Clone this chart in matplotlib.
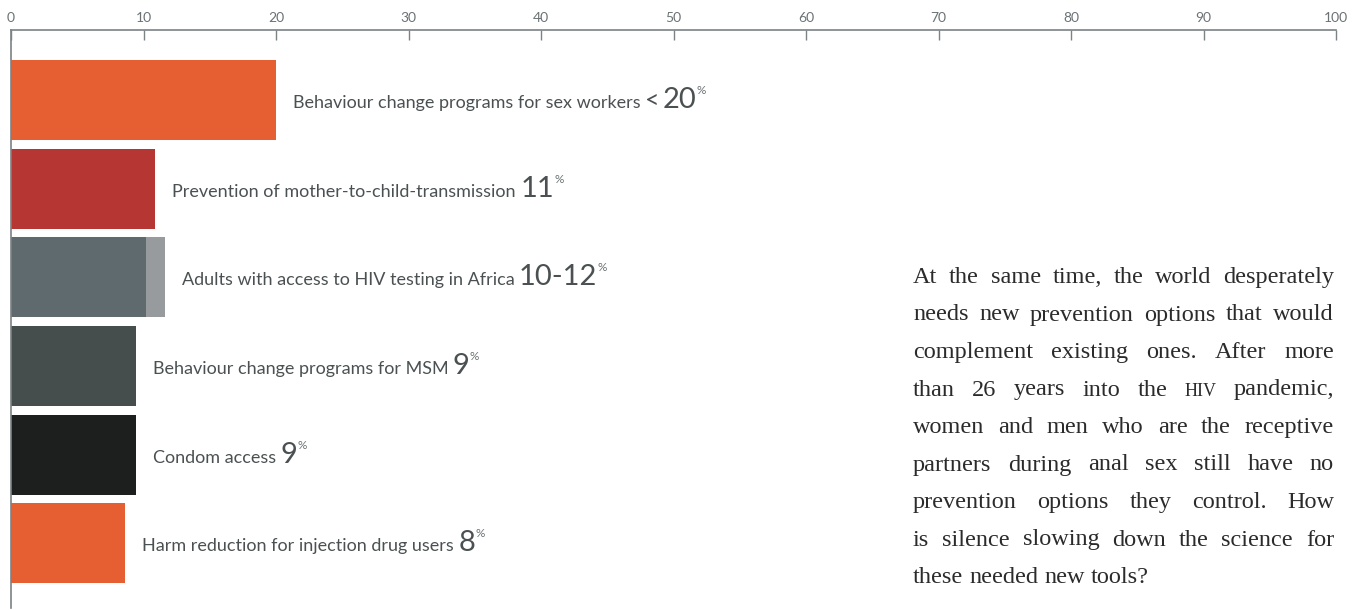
import matplotlib
matplotlib.use('Agg')
import matplotlib.pyplot as plt

# data
labels = ['Behaviour change programs for sex workers',
          'Prevention of mother-to-child-transmission',
          'Adults with access to HIV testing in Africa',
          'Behaviour change programs for MSM',
          'Condom access',
          'Harm reduction for injection drug users']
values = [20, 10.9, 10.2, 9.4, 9.4, 8.6]
upper = [None, None, 11.6, None, None, None]   # range end (light part)
numbers = ['20', '11', '10-12', '9', '9', '8']
prefix = ['<', '', '', '', '', '']
colors = ['#E55F32', '#B53632', '#5E6A6E', '#454E4C', '#1D1F1E', '#E55F32']
range_color = '#989B9D'
ticks = [0, 10, 20, 30, 40, 50, 60, 70, 80, 90, 100]

para_lines = [
    ['At', 'the', 'same', 'time,', 'the', 'world', 'desperately'],
    ['needs', 'new', 'prevention', 'options', 'that', 'would'],
    ['complement', 'existing', 'ones.', 'After', 'more'],
    ['than', '26', 'years', 'into', 'the', 'HIV', 'pandemic,'],
    ['women', 'and', 'men', 'who', 'are', 'the', 'receptive'],
    ['partners', 'during', 'anal', 'sex', 'still', 'have', 'no'],
    ['prevention', 'options', 'they', 'control.', 'How'],
    ['is', 'silence', 'slowing', 'down', 'the', 'science', 'for'],
    ['these', 'needed', 'new', 'tools?'],
]

W, H = 1357, 610
fig = plt.figure(figsize=(W / 100, H / 100), dpi=100)
# axes spans pixel rows 30..608 from the top
ax = fig.add_axes([11 / W, 2 / H, (1336 - 11) / W, (608 - 30) / H])

axis_col = '#7B8385'
text_col = '#4B5152'
sans = ['Lato', 'DejaVu Sans']

y = list(range(len(values)))
ax.barh(y, values, height=0.9, color=colors, zorder=2)
for i, u in enumerate(upper):
    if u is not None:
        ax.barh(i, u - values[i], left=values[i], height=0.9, color=range_color, zorder=2)

ax.set_xlim(0, 100)
ax.set_ylim(5.73, -0.79)
ax.xaxis.tick_top()
ax.set_xticks(ticks)
ax.tick_params(axis='x', direction='in', length=7, width=1, color=axis_col,
               labelcolor='#6B7274', labelsize=10, pad=4)
for t in ax.get_xticklabels():
    t.set_fontfamily(sans)
ax.set_yticks([])
for s in ['right', 'bottom']:
    ax.spines[s].set_visible(False)
for s in ['top', 'left']:
    ax.spines[s].set_color(axis_col)
    ax.spines[s].set_linewidth(1.2)

fig.canvas.draw()
renderer = fig.canvas.get_renderer()
px = ax.transData.transform

# labels after each bar: text, (prefix) big number, small %
for i in range(len(values)):
    end = upper[i] if upper[i] is not None else values[i]
    x0, yc = px((end, i))
    xpos = x0 + 17
    ybase = yc - 8
    pieces = [(labels[i] + ' ', 13, 0, text_col)]
    if prefix[i]:
        pieces.append((prefix[i], 18, 0, text_col))
    pieces.append((numbers[i], 21, 0, text_col))
    pieces.append(('%', 8.5, 14, '#6B7274'))
    for txt, size, dy, c in pieces:
        t = fig.text(xpos / W, (ybase + dy) / H, txt, fontsize=size, color=c,
                     family=sans, ha='left', va='baseline')
        bb = t.get_window_extent(renderer)
        xpos += bb.width + (3 if txt == prefix[i] else 0)

# justified paragraph on the right
left, right = 913, 1334
top_base = 610 - 283
line_gap = 37.5
serif = ['Liberation Serif', 'DejaVu Serif']
pcol = '#2B2B2B'
for li, words in enumerate(para_lines):
    yb = top_base - li * line_gap
    items = []
    for w in words:
        size = 13 if w == 'HIV' else 17.5
        t = fig.text(0, yb / H, w, fontsize=size, color=pcol, family=serif,
                     ha='left', va='baseline')
        items.append((t, t.get_window_extent(renderer).width))
    total = sum(wd for _, wd in items)
    if li == len(para_lines) - 1:
        gap = 6
    else:
        gap = (right - left - total) / (len(items) - 1)
    xpos = left
    for t, wd in items:
        t.set_x(xpos / W)
        xpos += wd + gap

fig.savefig('out.png', dpi=100)
